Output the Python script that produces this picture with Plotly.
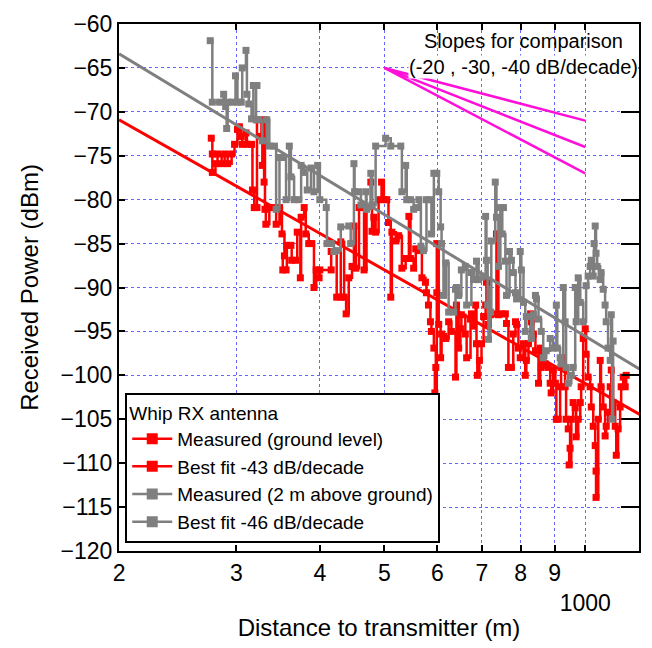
import plotly.graph_objects as go

# ---------------- data ----------------
gray_x = [274, 276, 283, 287, 289, 290, 291, 296, 299, 301, 305, 306, 310, 311, 313, 316, 318, 322, 321, 324,
          328, 333, 336, 342, 344, 348, 351, 356, 360, 362, 366, 372, 375, 379, 383, 388, 392, 397, 400, 409,
          410, 416, 420, 424, 430, 442, 445, 450, 451, 458, 461, 469, 470, 477, 479, 485, 502, 511, 529, 531,
          538, 540, 547, 553, 559, 563, 567, 572, 578, 586, 588, 593, 599, 603, 607, 609, 613, 618, 624, 635,
          639, 641, 646, 652, 661, 664, 675, 680, 687, 692, 704, 709, 711, 714, 716, 721, 723, 733, 736, 741,
          746, 754, 751, 759, 762, 770, 775, 780, 786, 789, 799, 802, 808, 813, 816, 830, 836, 842, 845, 851,
          859, 865, 874, 886, 895, 905, 908, 917, 920, 927, 933, 936, 943, 953, 959, 966, 969, 976, 983, 993,
          1003, 1010, 1017, 1021, 1028, 1031, 1035, 1038, 1042, 1053, 1056, 1064, 1071, 1075, 1082, 1090, 1094, 1097, 1101]
gray_y = [-61.9, -68.9, -68.9, -68.0, -69.4, -71.9, -68.9, -68.9, -65.9, -68.9, -68.9, -65.0, -63.0, -68.0, -69.1, -70.8, -67.0, -67.0, -70.9, -70.9,
          -73.3, -70.9, -73.9, -73.9, -81.1, -75.2, -75.2, -80.0, -73.9, -77.4, -80.0, -80.0, -76.1, -76.9, -78.9, -76.4, -79.1, -76.1, -80.0, -80.9,
          -85.0, -85.0, -85.9, -85.8, -83.1, -83.0, -85.0, -75.9, -79.1, -79.1, -80.6, -79.1, -81.1, -77.0, -80.6, -73.9, -73.0, -73.9, -73.9, -79.1,
          -76.1, -80.0, -80.0, -81.1, -80.9, -80.0, -85.3, -85.8, -80.0, -80.0, -83.9, -77.0, -77.0, -79.1, -83.1, -85.0, -90.9, -87.2, -92.8, -92.8,
          -90.2, -90.0, -90.9, -88.0, -87.6, -92.0, -88.3, -89.1, -87.0, -89.1, -88.7, -81.9, -86.9, -92.0, -95.9, -92.8, -84.7, -78.0, -82.0, -87.6,
          -80.9, -80.9, -83.9, -87.0, -90.9, -85.9, -86.9, -88.3, -90.6, -91.3, -85.9, -88.0, -91.7, -95.0, -93.3, -95.8, -93.1, -90.9, -91.3, -93.6,
          -95.0, -98.0, -97.2, -95.8, -96.9, -92.0, -96.9, -98.0, -98.7, -90.0, -93.9, -99.1, -100.9, -100.0, -99.1, -90.0, -93.9, -88.9, -91.7, -93.9,
          -89.8, -88.7, -87.6, -86.9, -88.7, -85.0, -83.0, -86.1, -87.6, -89.1, -88.3, -90.2, -92.0, -93.9, -96.9, -98.3, -93.1, -105.0, -96.1]

red_x = [275, 276, 276, 279, 281, 285, 288, 291, 295, 298, 301, 303, 305, 306, 310, 311, 316, 317, 319, 322,
         322, 327, 328, 330, 330, 331, 332, 336, 339, 344, 348, 351, 354, 352, 356, 357, 362, 363, 368, 370,
         374, 375, 379, 381, 385, 389, 392, 395, 399, 400, 416, 416, 420, 424, 430, 430, 435, 438, 442, 447,
         450, 453, 458, 462, 466, 470, 477, 479, 482, 485, 490, 495, 499, 504, 507, 511, 513, 520, 525, 531,
         538, 544, 547, 553, 557, 563, 569, 576, 578, 582, 586, 588, 593, 597, 595, 597, 599, 599, 603, 607,
         609, 618, 624, 630, 639, 641, 646, 650, 652, 661, 664, 673, 675, 680, 685, 687, 689, 694, 699, 704,
         709, 711, 716, 721, 728, 736, 741, 749, 759, 762, 767, 775, 780, 786, 789, 794, 799, 808, 813, 816,
         822, 828, 830, 836, 842, 851, 856, 859, 871, 880, 886, 889, 895, 902, 905, 911, 917, 920, 927, 933,
         936, 943, 949, 946, 953, 959, 966, 969, 976, 983, 986, 993, 1000, 1003, 1010, 1017, 1021, 1028, 1035, 1038,
         1038, 1046, 1053, 1056, 1064, 1071, 1075, 1082, 1090, 1094, 1101, 1109, 1113, 1120, 1128, 1132, 1140, 1148, 1152]
red_y = [-73.0, -74.8, -76.9, -75.9, -74.8, -75.9, -74.8, -75.9, -74.8, -73.7, -72.0, -71.7, -72.8, -73.7, -72.4, -73.7, -73.7, -78.9, -80.9, -80.9,
         -70.9, -72.8, -76.1, -78.0, -70.9, -81.1, -82.8, -80.9, -80.9, -82.8, -80.9, -83.9, -86.4, -88.0, -88.0, -85.2, -85.2, -86.9, -86.9, -83.7,
         -88.9, -82.0, -80.9, -83.9, -85.0, -85.0, -90.0, -88.0, -88.9, -88.0, -88.0, -85.9, -85.9, -91.1, -91.1, -84.8, -91.1, -93.0, -88.9, -87.6,
         -83.0, -87.8, -80.9, -80.9, -88.0, -80.9, -78.0, -83.6, -82.0, -83.7, -80.0, -78.0, -80.0, -80.0, -82.6, -91.1, -83.7, -84.7, -84.1, -87.8,
         -86.7, -81.9, -86.7, -87.8, -85.6, -85.8, -88.9, -89.4, -90.6, -92.0, -93.9, -95.0, -96.9, -99.1, -102.0, -103.1, -90.6, -85.0, -94.2, -98.0,
         -95.3, -95.8, -93.9, -95.0, -100.2, -92.0, -96.9, -94.7, -93.1, -95.3, -98.0, -93.6, -93.0, -94.4, -92.0, -96.4, -100.0, -98.3, -96.4, -93.3,
         -92.0, -89.4, -94.2, -93.1, -93.0, -83.9, -93.1, -93.0, -93.0, -94.1, -99.1, -99.1, -95.3, -93.9, -94.2, -96.9, -98.0, -96.4, -100.0, -98.3,
         -96.4, -93.0, -93.9, -95.3, -97.2, -100.9, -96.9, -99.1, -98.7, -99.1, -100.9, -102.0, -99.4, -100.9, -105.0, -105.0, -101.3, -99.1, -98.0, -101.3,
         -105.0, -106.1, -108.3, -110.2, -105.0, -103.1, -103.7, -107.0, -105.0, -103.1, -101.3, -95.8, -94.7, -97.6, -100.2, -101.3, -103.6, -105.8, -108.0, -110.9,
         -113.9, -105.0, -98.3, -101.3, -103.6, -106.9, -105.8, -104.2, -101.3, -99.4, -103.1, -105.8, -109.1, -106.1, -103.6, -101.3, -100.2, -101.3, -100.0]

fit_x = [200, 1250]
red_fit_y = [-70.9, -105.1]
gray_fit_y = [-63.4, -100.0]

slope_x = [500, 1000]
slope_start = -65
slope_ends = [-71.0, -74.0, -77.0]   # -20, -30, -40 dB/decade

x_tickvals = [200, 300, 400, 500, 600, 700, 800, 900, 1000]
x_ticktext = ["2", "3", "4", "5", "6", "7", "8", "9", "<br>1000"]
y_tickvals = list(range(-120, -55, 5))

legend_names = ["Measured (ground level)", "Best fit -43 dB/decade",
                "Measured (2 m above ground)", "Best fit -46 dB/decade"]

RED = "#ff0000"
GRAY = "#7f7f7f"
MAG = "#ff10d8"
FONT = "Liberation Sans, Arial, sans-serif"

fig = go.Figure()

fig.add_trace(go.Scatter(x=red_x, y=red_y, mode="lines+markers", line=dict(color=RED, width=2.5, shape="hv"),
                         marker=dict(symbol="square", size=7, color=RED), showlegend=False))
fig.add_trace(go.Scatter(x=fit_x, y=red_fit_y, mode="lines", line=dict(color=RED, width=3), showlegend=False))
fig.add_trace(go.Scatter(x=gray_x, y=gray_y, mode="lines+markers", line=dict(color=GRAY, width=2.5, shape="hv"),
                         marker=dict(symbol="square", size=7, color=GRAY), showlegend=False))
fig.add_trace(go.Scatter(x=fit_x, y=gray_fit_y, mode="lines", line=dict(color=GRAY, width=3), showlegend=False))

# legend entries
for name, col in zip(legend_names, [RED, RED, GRAY, GRAY]):
    fig.add_trace(go.Scatter(x=[None], y=[None], mode="lines+markers", line=dict(color=col, width=2.5),
                             marker=dict(symbol="square", size=11, color=col), name=name))

for ye in slope_ends:
    fig.add_trace(go.Scatter(x=slope_x, y=[slope_start, ye], mode="lines", line=dict(color=MAG, width=2.5),
                             showlegend=False))

fig.add_trace(go.Scatter(x=[None], y=[None], yaxis="y2", showlegend=False))

fig.update_layout(
    width=652, height=648,
    margin=dict(l=119, r=11, t=15, b=93),
    paper_bgcolor="white", plot_bgcolor="white",
    font=dict(family=FONT, color="black"),
    showlegend=True,
    legend=dict(
        x=0.012, y=0.015, xanchor="left", yanchor="bottom",
        bgcolor="white", bordercolor="black", borderwidth=2,
        font=dict(size=19, family=FONT),
        title=dict(text="Whip RX antenna", font=dict(size=19, family=FONT)),
        tracegroupgap=0, itemwidth=40,
    ),
    xaxis=dict(
        type="log", range=[2.30098, 3.0806],
        tickmode="array", tickvals=x_tickvals, ticktext=x_ticktext, tickangle=0,
        ticks="inside", ticklen=6, tickwidth=2, tickcolor="black",
        showline=True, linewidth=2, linecolor="black", mirror="ticks",
        showgrid=True, gridcolor="rgb(100,100,255)", gridwidth=1, griddash="3px,3px",
        tickfont=dict(size=23, family=FONT),
        title=dict(text="Distance to transmitter (m)", font=dict(size=24, family=FONT), standoff=5),
        zeroline=False,
    ),
    yaxis=dict(
        range=[-120, -60],
        tickmode="array", tickvals=y_tickvals,
        ticks="inside", ticklen=6, tickwidth=2, tickcolor="black",
        showline=True, linewidth=2, linecolor="black", mirror=True,
        showgrid=True, gridcolor="rgb(100,100,255)", gridwidth=1, griddash="3px,3px",
        tickfont=dict(size=23, family=FONT),
        title=dict(text="Received Power (dBm)", font=dict(size=24, family=FONT)),
        zeroline=False,
    ),
    yaxis2=dict(
        range=[-120, -60], overlaying="y", side="right", anchor="x",
        tickmode="array", tickvals=y_tickvals, showticklabels=False,
        ticks="inside", ticklen=18, tickwidth=2, tickcolor="black",
        showline=True, linewidth=2, linecolor="black", showgrid=False, zeroline=False,
    ),
    annotations=[
        dict(x=0.7776, y=0.9185, xref="paper", yref="paper", xanchor="center", yanchor="middle",
             text="(-20 , -30, -40 dB/decade)", showarrow=False,
             font=dict(size=20, family=FONT), bgcolor="white", borderpad=0),
        dict(x=0.7776, y=0.9685, xref="paper", yref="paper", xanchor="center", yanchor="middle",
             text="Slopes for comparison", showarrow=False,
             font=dict(size=20, family=FONT), borderpad=0),
    ],
)

fig.write_html("out.html")
